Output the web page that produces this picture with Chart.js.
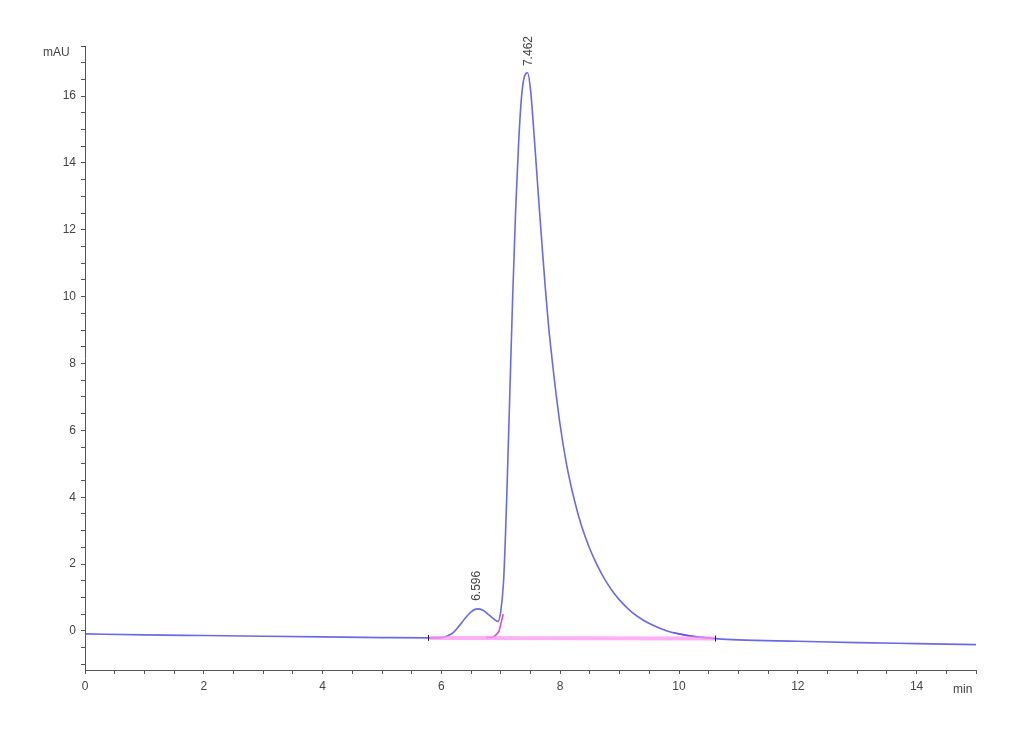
<!DOCTYPE html>
<html>
<head>
<meta charset="utf-8">
<script src="https://cdn.jsdelivr.net/npm/chart.js@4/dist/chart.umd.min.js"></script>
<style>
  html, body { margin: 0; padding: 0; background: #fff; }
  #wrap { width: 1030px; height: 755px; }
</style>
</head>
<body>
<div id="wrap"><canvas id="chrom" width="1030" height="755"></canvas></div>
<script>
// chromatogram trace (min, mAU)
const timeMin = [0, 1, 2, 3, 4, 5, 5.8, 6.0, 6.1, 6.2, 6.3, 6.4, 6.5, 6.6, 6.7, 6.8, 6.9, 6.95, 7.0, 7.05, 7.1, 7.15, 7.2, 7.25, 7.3, 7.35, 7.4, 7.45, 7.5, 7.55, 7.6, 7.65, 7.7, 7.75, 7.8, 7.9, 8.0, 8.1, 8.2, 8.3, 8.4, 8.5, 8.6, 8.7, 8.8, 8.9, 9.0, 9.2, 9.4, 9.6, 9.8, 10.0, 10.3, 10.6, 11, 12, 13, 14, 15];
const signal  = [-0.09, -0.12, -0.14, -0.16, -0.18, -0.2, -0.21, -0.2, -0.15, -0.05, 0.15, 0.38, 0.57, 0.66, 0.62, 0.48, 0.33, 0.28, 0.6, 1.6, 4.0, 7.0, 10.0, 12.6, 14.6, 16.0, 16.6, 16.7, 16.2, 15.1, 13.85, 12.6, 11.4, 10.25, 9.2, 7.55, 6.15, 5.05, 4.2, 3.5, 2.92, 2.45, 2.05, 1.7, 1.4, 1.14, 0.92, 0.57, 0.32, 0.14, 0.0, -0.09, -0.18, -0.23, -0.27, -0.31, -0.35, -0.38, -0.41];

// integration baseline and peak split
const baseX = [5.8, 10.6];
const baseY = [-0.21, -0.23];
const dropX = [6.75, 6.85, 6.92, 6.97, 7.0, 7.04];
const dropY = [-0.2, -0.19, -0.12, 0.0, 0.2, 0.5];
const tailX = [9.9, 10.0, 10.3, 10.6];
const tailY = [-0.05, -0.09, -0.18, -0.23];

const xTicks = [];
for (let v = 0; v <= 15; v += 0.5) xTicks.push(v);
const yTicks = [];
for (let v = -1; v <= 17.5; v += 0.5) yTicks.push(v);

const peaks = [
  { rt: 6.596, label: "6.596", top: 0.9 },
  { rt: 7.462, label: "7.462", top: 16.9 }
];
const eventMarks = [[5.78, -0.21], [10.6, -0.23]];

function pts(xs, ys) { return xs.map((x, i) => ({ x: x, y: ys[i] })); }

const extras = {
  id: "extras",
  afterDatasetsDraw(chart) {
    const ctx = chart.ctx;
    const xs = chart.scales.x, ys = chart.scales.y;
    ctx.save();
    ctx.fillStyle = "#444";
    ctx.font = "12px 'Liberation Sans', Arial, sans-serif";
    ctx.textAlign = "left";
    ctx.textBaseline = "middle";
    ctx.fillText("mAU", 43, 53);
    ctx.fillText("min", 953, 690);
    // peak retention time labels
    peaks.forEach(p => {
      ctx.save();
      ctx.translate(xs.getPixelForValue(p.rt), ys.getPixelForValue(p.top));
      ctx.rotate(-Math.PI / 2);
      ctx.textAlign = "left";
      ctx.fillText(p.label, 0, 0);
      ctx.restore();
    });
    // integration event marks
    ctx.strokeStyle = "#222";
    ctx.lineWidth = 1;
    eventMarks.forEach(m => {
      const px = Math.round(xs.getPixelForValue(m[0])) + 0.5;
      const py = ys.getPixelForValue(m[1]);
      ctx.beginPath();
      ctx.moveTo(px, py - 3);
      ctx.lineTo(px, py + 3);
      ctx.stroke();
    });
    ctx.restore();
  }
};

new Chart(document.getElementById("chrom"), {
  type: "scatter",
  data: {
    datasets: [
      { data: pts(baseX, baseY), showLine: true, borderColor: "rgba(255,150,240,0.75)", borderWidth: 4, pointRadius: 0 },
      { data: pts(timeMin, signal), showLine: true, borderColor: "rgba(80,80,225,0.85)", borderWidth: 1.6, pointRadius: 0, cubicInterpolationMode: "monotone" },
      { data: pts(dropX, dropY), showLine: true, borderColor: "rgba(220,40,200,0.85)", borderWidth: 1.6, pointRadius: 0, cubicInterpolationMode: "monotone" },
      { data: pts(tailX, tailY), showLine: true, borderColor: "rgba(200,40,200,0.6)", borderWidth: 1.6, pointRadius: 0, cubicInterpolationMode: "monotone" }
    ]
  },
  options: {
    responsive: false,
    animation: false,
    layout: { padding: { top: 46, right: 54, left: 0, bottom: 0 } },
    plugins: { legend: { display: false }, tooltip: { enabled: false } },
    scales: {
      x: {
        type: "linear", min: 0, max: 15,
        afterFit(s) { s.height = 85; },
        afterBuildTicks(s) { s.ticks = xTicks.map(v => ({ value: v })); },
        grid: { drawOnChartArea: false, drawTicks: true, tickLength: 4, color: "#555" },
        border: { display: true, color: "#555", width: 1 },
        ticks: {
          color: "#444", font: { size: 12, family: "'Liberation Sans', Arial, sans-serif" },
          maxRotation: 0, autoSkip: false, padding: 5,
          callback: v => (v % 2 === 0 && v < 15) ? String(v) : ""
        }
      },
      y: {
        type: "linear", min: -1.17, max: 17.5,
        afterFit(s) { s.width = 85; },
        afterBuildTicks(s) { s.ticks = yTicks.map(v => ({ value: v })); },
        grid: { drawOnChartArea: false, drawTicks: true, tickLength: 4, color: "#555" },
        border: { display: true, color: "#555", width: 1 },
        ticks: {
          color: "#444", font: { size: 12, family: "'Liberation Sans', Arial, sans-serif" },
          autoSkip: false, padding: 5,
          callback: v => (v % 2 === 0) ? String(v) : ""
        }
      }
    }
  },
  plugins: [extras]
});
</script>
</body>
</html>
